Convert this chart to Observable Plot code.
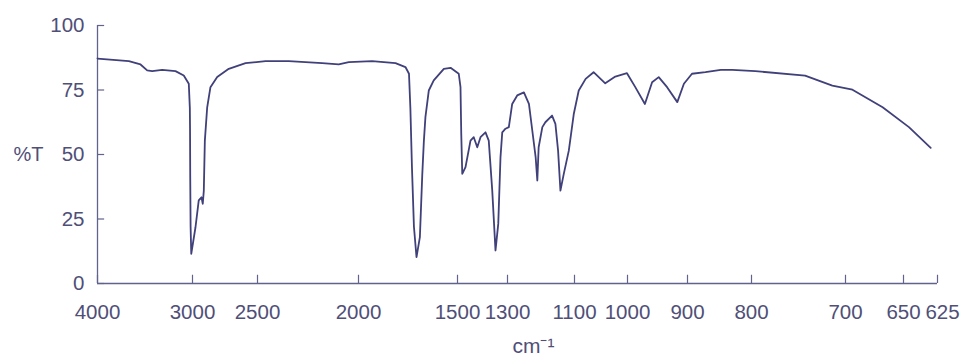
<!DOCTYPE html>
<html>
<head>
<meta charset="utf-8">
<script src="https://cdn.jsdelivr.net/npm/d3@7"></script>
<script src="https://cdn.jsdelivr.net/npm/@observablehq/plot@0.6"></script>
<style>
  html, body { margin: 0; padding: 0; background: #ffffff; }
  #chart { width: 965px; height: 356px; }
</style>
</head>
<body>
<div id="chart"></div>
<script>
// Wavenumber (cm-1) and transmittance (%T)
const wavenumbers = [
  4000, 3670, 3547, 3477, 3424, 3319, 3179, 3092, 3039, 3028, 3026, 3024, 3020, 3013,
  2977, 2952, 2931, 2921, 2913, 2905, 2887, 2862, 2810, 2721, 2592, 2460, 2345, 2180,
  2098, 2048, 1931, 1813, 1763, 1745, 1738, 1730, 1720, 1707, 1690, 1678, 1670, 1662,
  1645, 1620, 1569, 1535, 1495, 1488, 1485, 1481, 1468, 1448, 1435, 1421, 1408, 1388,
  1375, 1361, 1348, 1337, 1328, 1321, 1308, 1296, 1286, 1271, 1251, 1236, 1226, 1216,
  1211, 1207, 1196, 1187, 1167, 1157, 1149, 1142, 1132, 1117, 1102, 1092, 1079, 1064,
  1042, 1023, 1001, 987, 971, 959, 948, 934, 917, 906, 893, 872, 848, 830, 796, 743,
  714, 694, 668, 646, 630
];
const transmittance = [
  87.2, 86.2, 84.9, 82.6, 82.3, 82.8, 82.3, 80.6, 77.4, 68, 60, 42, 22, 11.5,
  21.8, 32.2, 33.4, 30.9, 36, 55.4, 68.3, 76.1, 80, 83.2, 85.4, 86.2, 86.2, 85.4,
  84.9, 85.8, 86.2, 85.4, 83.9, 81.3, 68, 45, 22, 10.2, 18, 42, 55, 64.5,
  74.8, 78.7, 83.2, 83.6, 81.3, 76.1, 58, 42.5, 45.1, 55.4, 56.7, 52.8, 56.7, 58.6,
  55.4, 36, 12.8, 23.1, 49, 58.6, 60, 60.6, 69.6, 72.9, 74.1, 69.6, 59.3, 49,
  39.9, 52.8, 60.6, 62.5, 65.1, 61.9, 51.5, 36, 42.5, 51.5, 65.8, 74.8, 79.3, 81.9,
  77.6, 80.2, 81.5, 76.1, 69.6, 78, 80, 76.1, 70.3, 77.4, 81.3, 81.9, 82.8, 82.8, 82.3, 80.6,
  76.7, 75.1, 68.3, 60.6, 52.6
];
const xTicks = [4000, 3000, 2500, 2000, 1500, 1300, 1100, 1000, 900, 800, 700, 650, 625];
const yTicks = [0, 25, 50, 75, 100];
const yLabel = "%T";
const xLabel = "cm\u207B\u00B9";

const spectrum = wavenumbers.map((w, i) => ({w, t: transmittance[i]}));

// The instrument chart uses a non-uniform (piecewise) wavenumber axis
const xBreakPixels = [97, 192, 257, 358, 457, 507, 574, 627, 687, 751, 845, 903, 937];

const axisColor = "#62628e";
const textColor = "#4f4f78";
const lineColor = "#40407a";

const lastTick = xTicks[xTicks.length - 1];

const chart = Plot.plot({
  width: 965,
  height: 356,
  marginTop: 25,
  marginBottom: 73,
  marginLeft: 97,
  marginRight: 28,
  style: {fontFamily: "'Liberation Sans', Arial, sans-serif", fontSize: "20px", background: "#ffffff"},
  x: {type: "linear", domain: xTicks, range: xBreakPixels, axis: null},
  y: {domain: [0, 100], range: [283, 25], axis: null},
  marks: [
    // axis lines
    Plot.ruleY([0], {x1: 4000, x2: 625, stroke: axisColor, strokeWidth: 1.3}),
    Plot.ruleX([4000], {y1: 0, y2: 100, stroke: axisColor, strokeWidth: 1.3}),
    // inward ticks
    Plot.ruleX(xTicks, {x: d => d, y1: 0, y2: 3.2, stroke: axisColor, strokeWidth: 1.2}),
    Plot.ruleY(yTicks, {y: d => d, x1: 4000, x2: 3925, stroke: axisColor, strokeWidth: 1.2}),
    // tick labels
    Plot.text(xTicks.slice(0, -1), {x: d => d, y: 0, dy: 29, text: d => String(d), fill: textColor, fontSize: 20.5, lineAnchor: "middle", textAnchor: "middle"}),
    Plot.text([lastTick], {x: d => d, y: 0, dy: 29, dx: 5, text: d => String(d), fill: textColor, fontSize: 20.5, lineAnchor: "middle", textAnchor: "middle"}),
    Plot.text(yTicks, {x: 4000, y: d => d, dx: -13, text: d => String(d), fill: textColor, fontSize: 20.5, lineAnchor: "middle", textAnchor: "end"}),
    // axis titles
    Plot.text([yLabel], {x: 4000, y: 50, dx: -54, text: d => d, fill: textColor, fontSize: 20, lineAnchor: "middle", textAnchor: "end"}),
    Plot.text([xLabel], {frameAnchor: "bottom", dx: 16, dy: 63, text: d => d, fill: textColor, fontSize: 21, lineAnchor: "middle", textAnchor: "middle"}),
    // spectrum
    Plot.line(spectrum, {x: "w", y: "t", stroke: lineColor, strokeWidth: 1.8, curve: "linear", strokeLinejoin: "round"})
  ]
});

document.getElementById("chart").appendChild(chart);
</script>
</body>
</html>
